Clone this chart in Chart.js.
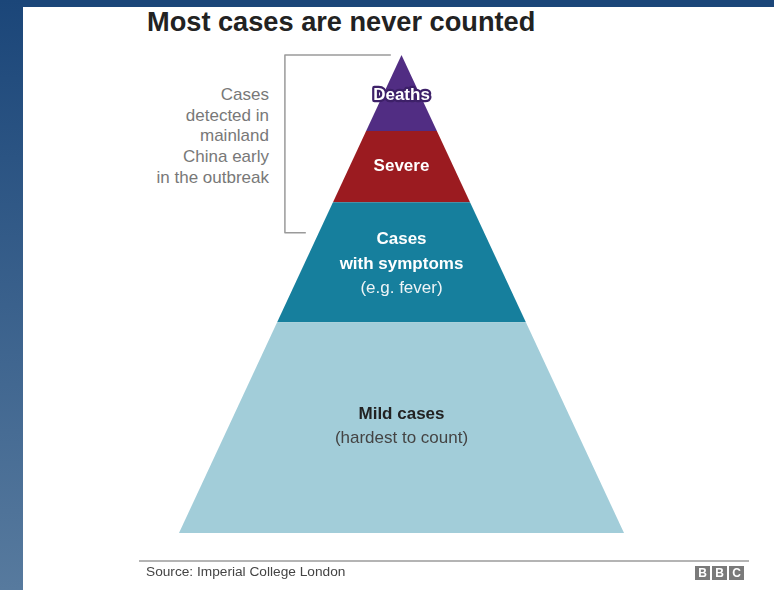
<!DOCTYPE html>
<html>
<head>
<meta charset="utf-8">
<script src="https://cdn.jsdelivr.net/npm/chart.js@4.4.1/dist/chart.umd.min.js"></script>
<style>
    html, body { margin: 0; padding: 0; }
    body {
        width: 774px; height: 590px; position: relative; overflow: hidden;
        background: #1b4679;
        font-family: "Liberation Sans", Arial, sans-serif;
    }
    .side { position: absolute; left: 0; top: 0; width: 23px; height: 590px; background: linear-gradient(#1b4679, #577a9e); }
    .panel { position: absolute; left: 23px; top: 7px; right: 0; bottom: 0; background: #fff; }
    .title { position: absolute; left: 147px; top: 7px; font-size: 27.2px; line-height: 30px; font-weight: bold; color: #222; white-space: nowrap; }
    .note { position: absolute; left: 90px; width: 179px; top: 85px; text-align: right; font-size: 17px; line-height: 20.7px; color: #787878; }
    .rule { position: absolute; left: 139px; top: 560px; width: 610px; height: 2px; background: #b4b4b4; }
    .source { position: absolute; left: 146px; top: 564px; font-size: 13.7px; line-height: 16px; color: #444; white-space: nowrap; }
    .bbc { position: absolute; left: 695px; top: 566px; display: flex; gap: 2px; }
    .bbc span { width: 15px; height: 14px; background: #7a7a7a; color: #fff; font-size: 12px; font-weight: bold; line-height: 14px; text-align: center; }
    #pyramid { position: absolute; left: 0; top: 0; }
</style>
</head>
<body>
<div class="side"></div>
<div class="panel"></div>
<div class="title">Most cases are never counted</div>
<div class="note">Cases<br>detected in<br>mainland<br>China early<br>in the outbreak</div>
<canvas id="pyramid" width="774" height="590"></canvas>
<div class="rule"></div>
<div class="source">Source: Imperial College London</div>
<div class="bbc"><span>B</span><span>B</span><span>C</span></div>

<script>
// layers from the base of the pyramid to the tip
const layers = ["Mild cases", "Cases with symptoms", "Severe", "Deaths"];
// share of the pyramid's height taken by each layer, in %
const layerShare = [44.1, 25.1, 14.9, 15.9];
const layerLines = [
    ["Mild cases", "(hardest to count)"],
    ["Cases", "with symptoms", "(e.g. fever)"],
    ["Severe"],
    ["Deaths"]
];
const boldLines = [1, 2, 1, 1];
// bracket marks the layers counted early on (level range, % of height)
const bracketRange = [62.8, 100];

const layerColors = ["#a2cdd9", "#167f9d", "#9b1b20", "#512d83"];

let levels = [0];
layerShare.forEach(s => levels.push(levels[levels.length - 1] + s));

function halfWidth(level) {
    return 50 * (1 - level / 100);
}

const datasets = layers.map((name, i) => {
    const lo = levels[i];
    const hi = levels[i + 1];
    return {
        label: name,
        data: [
            { x: -halfWidth(lo), y: lo },
            { x: -halfWidth(hi), y: hi },
            { x: halfWidth(hi), y: hi },
            { x: halfWidth(lo), y: lo }
        ],
        showLine: true,
        fill: { value: lo },
        backgroundColor: layerColors[i],
        borderWidth: 0,
        pointRadius: 0,
        tension: 0,
        clip: false
    };
});

const FONT = '"Liberation Sans", Arial, sans-serif';
// small nudges so the labels sit where the original puts them
const labelShift = [-1.5, 2, 0, 2];

const pyramidLabels = {
    id: "pyramidLabels",
    afterDatasetsDraw(chart) {
        const { ctx, scales: { x, y } } = chart;
        ctx.save();
        ctx.textAlign = "center";
        ctx.textBaseline = "middle";

        const cx = x.getPixelForValue(0);

        layerLines.forEach((lines, i) => {
            const mid = (y.getPixelForValue(levels[i]) + y.getPixelForValue(levels[i + 1])) / 2;
            const pitch = 24.5;
            const start = mid - (lines.length - 1) * pitch / 2 + labelShift[i];

            lines.forEach((t, j) => {
                const bold = j < boldLines[i];
                ctx.font = (bold ? "bold " : "") + "17px " + FONT;
                const ty = start + j * pitch;

                if (i == 0) {
                    ctx.fillStyle = bold ? "#222" : "#444";
                } else {
                    ctx.fillStyle = bold ? "#fff" : "#eef4f6";
                }

                if (i == 3) {
                    ctx.lineJoin = "round";
                    ctx.strokeStyle = "#3d2068";
                    ctx.lineWidth = 4.5;
                    ctx.strokeText(t, cx, ty);
                }
                ctx.fillText(t, cx, ty);
            });
        });

        // bracket
        const bx = x.getPixelForValue(-26.2);
        const bTop = y.getPixelForValue(bracketRange[1]);
        const bBot = y.getPixelForValue(bracketRange[0]);
        ctx.strokeStyle = "#9a9a9a";
        ctx.lineWidth = 1.5;
        ctx.beginPath();
        ctx.moveTo(x.getPixelForValue(-2.4), bTop);
        ctx.lineTo(bx, bTop);
        ctx.lineTo(bx, bBot);
        ctx.lineTo(x.getPixelForValue(-21.5), bBot);
        ctx.stroke();

        ctx.restore();
    }
};

new Chart(document.getElementById("pyramid"), {
    type: "scatter",
    data: { datasets: datasets },
    options: {
        responsive: false,
        devicePixelRatio: 1,
        animation: false,
        events: [],
        layout: {
            padding: { left: 179, right: 150, top: 55, bottom: 57 }
        },
        plugins: {
            legend: { display: false },
            tooltip: { enabled: false }
        },
        scales: {
            x: { type: "linear", min: -50, max: 50, display: false },
            y: { type: "linear", min: 0, max: 100, display: false }
        }
    },
    plugins: [pyramidLabels]
});
</script>
</body>
</html>
